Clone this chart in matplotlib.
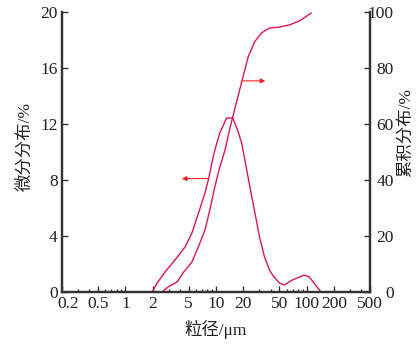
import matplotlib
matplotlib.use("Agg")
import matplotlib.pyplot as plt
import matplotlib.transforms as mtransforms
from matplotlib.ticker import FixedLocator, NullFormatter

plt.rcParams['font.family'] = ['Liberation Serif', 'Noto Sans CJK SC', 'DejaVu Sans']

# differential distribution (left axis, %)
diff_size = [1.98, 2.24, 2.74, 3.53, 4.55, 5.42, 6.31, 7.54, 8.34, 9.0, 9.7,
             11.0, 12.5, 13.1, 15.3, 17.3, 19.2, 23.5, 26.6, 30.2, 34.3, 38.9,
             42.0, 50.0, 56.8, 69.5, 94.0, 107.0, 144.0]
diff_val = [0.0, 0.64, 1.43, 2.29, 3.21, 4.21, 5.5, 7.07, 8.14, 9.2, 10.14,
            11.36, 12.14, 12.43, 12.43, 11.57, 10.64, 7.6, 5.8, 3.93, 2.5, 1.57,
            1.21, 0.64, 0.5, 0.86, 1.21, 1.07, 0.0]

# cumulative distribution (right axis, %)
cum_size = [2.55, 2.96, 3.72, 4.32, 5.42, 6.31, 7.54, 8.55, 9.7, 11.0, 12.5,
            14.1, 16.0, 19.2, 22.6, 26.6, 31.7, 38.9, 50.0, 64.5, 83.0, 112.0]
cum_val = [0.0, 1.8, 3.6, 6.8, 10.7, 15.7, 22.1, 29.3, 37.5, 44.6, 50.4,
           57.9, 65.0, 75.0, 83.9, 89.3, 92.5, 94.3, 94.6, 95.4, 96.8, 99.6]

x_ticks = [0.2, 0.5, 1, 2, 5, 10, 20, 50, 100, 200, 500]
x_tick_labels = ['0.2', '0.5', '1', '2', '5', '10', '20', '50', '100', '200', '500']
left_ticks = [0, 4, 8, 12, 16, 20]
right_ticks = [0, 20, 40, 60, 80, 100]

line_color = '#e0145a'
arrow_color = '#ee2020'
spine_color = '#333333'
text_color = '#222222'

fig = plt.figure(figsize=(4.2, 3.47), dpi=100)
ax = fig.add_axes([0.1476, 0.1585, 0.7334, 0.8069])
ax2 = ax.twinx()

ax.plot(diff_size, diff_val, color=line_color, lw=1.0)
ax2.plot(cum_size, cum_val, color=line_color, lw=1.0)

ax.set_xscale('log')
ax.set_xlim(0.2, 500)
ax.set_ylim(0, 20)
ax2.set_ylim(0, 100)

minor = []
for dec in [0.1, 1, 10, 100]:
    for m in range(2, 10):
        v = m * dec
        if 0.2 <= v <= 500 and v not in x_ticks:
            minor.append(v)
ax.xaxis.set_major_locator(FixedLocator(x_ticks))
ax.set_xticklabels(x_tick_labels)
ax.xaxis.set_minor_locator(FixedLocator(minor))
ax.xaxis.set_minor_formatter(NullFormatter())
ax.set_yticks(left_ticks)
ax2.set_yticks(right_ticks)

for a in (ax, ax2):
    a.spines['top'].set_visible(False)
    for s in ('left', 'right', 'bottom'):
        a.spines[s].set_linewidth(1.6)
        a.spines[s].set_color(spine_color)
    a.tick_params(which='both', direction='in', colors=spine_color,
                  labelcolor=text_color, labelsize=12.5, width=1.0)
    a.tick_params(which='major', length=4)
    a.tick_params(which='minor', length=2.5)
ax.tick_params(axis='x', pad=3)
ax.tick_params(axis='y', pad=3)
# right-hand labels are right-aligned a little away from the spine
ax2.tick_params(axis='y', pad=17)
for lab in ax2.get_yticklabels():
    lab.set_horizontalalignment('right')

# nudge the first x label off the left spine
first = ax.get_xticklabels()[0]
first.set_transform(first.get_transform() +
                    mtransforms.ScaledTranslation(6 / 100, 0, fig.dpi_scale_trans))

ax.set_ylabel('微分分布/%', fontsize=12.5, color=text_color)
ax.yaxis.set_label_coords(-0.094, 0.518)
ax2.set_ylabel('累积分布/%', fontsize=12.5, color=text_color)
ax2.yaxis.set_label_coords(1.091, 0.568)
ax.set_xlabel('粒径/μm', fontsize=12.5, color=text_color)
ax.xaxis.set_label_coords(0.5, -0.1)

# arrows showing which axis each curve belongs to
ax.annotate('', xy=(4.2, 8.1), xytext=(8.3, 8.1),
            arrowprops=dict(arrowstyle='-|>', color=arrow_color, lw=0.8,
                            mutation_scale=7, shrinkA=0, shrinkB=0))
ax2.annotate('', xy=(35.0, 75.4), xytext=(19.7, 75.4),
             arrowprops=dict(arrowstyle='-|>', color=arrow_color, lw=0.8,
                             mutation_scale=7, shrinkA=0, shrinkB=0))

fig.savefig('out.png', dpi=100)
